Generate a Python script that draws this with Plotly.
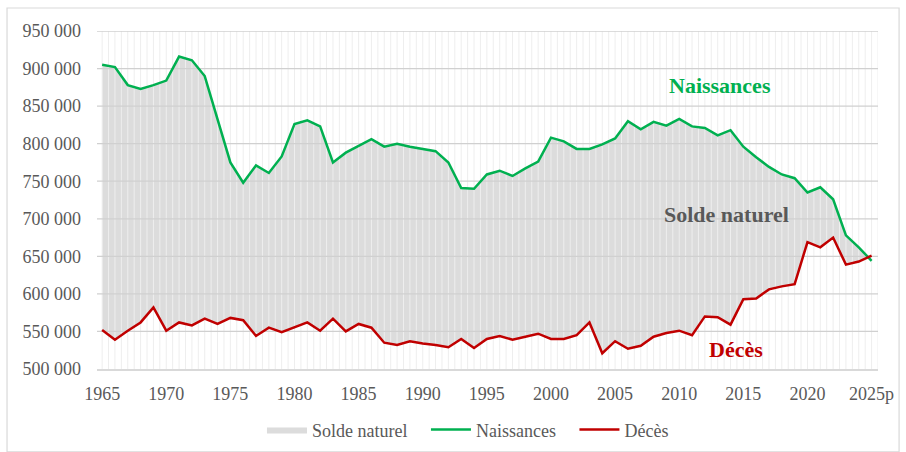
import plotly.graph_objects as go

years = list(range(1965, 2026))
naissances = [905000, 902000, 878000, 873000, 878000, 884000, 916000, 911000, 890000, 832000,
              775000, 748000, 771000, 761000, 783000, 826000, 831000, 823000, 775000, 788000,
              797000, 806000, 796000, 800000, 796000, 793000, 790000, 775000, 741000, 740000,
              759000, 764000, 757000, 767000, 776000, 808000, 803000, 793000, 793000, 799000,
              807000, 830000, 819000, 829000, 824000, 833000, 823000, 821000, 811000, 818000,
              796000, 782000, 769000, 759000, 754000, 735000, 742000, 726000, 678000, 662000,
              644000]
deces = [552000, 539000, 551000, 562000, 582000, 551000, 562000, 558000, 567000, 560000,
         568000, 565000, 544000, 555000, 549000, 556000, 562000, 551000, 567000, 550000,
         560000, 555000, 535000, 532000, 537000, 534000, 532000, 529000, 540000, 528000,
         540000, 544000, 539000, 543000, 547000, 540000, 540000, 545000, 562000, 521000,
         537000, 527000, 531000, 543000, 548000, 551000, 545000, 570000, 569000, 559000,
         593000, 594000, 606000, 610000, 613000, 669000, 662000, 675000, 639000, 643000,
         651000]
tick_years = [1965, 1970, 1975, 1980, 1985, 1990, 1995, 2000, 2005, 2010, 2015, 2020, 2025]
tick_text = ["1965", "1970", "1975", "1980", "1985", "1990", "1995", "2000", "2005", "2010",
             "2015", "2020", "2025p"]
y_ticks = list(range(500000, 950001, 50000))

serif = "Liberation Serif"
green = "#00b050"
red = "#c00000"
grey_txt = "#595959"
pad = "\u00a0\u00a0\u00a0"

Y0, Y1 = 500000, 950000
X0, X1 = 1964.6, 2025.5

fig = go.Figure()

fig.add_trace(go.Scatter(x=years, y=deces, mode="lines", line=dict(width=0, color="rgba(0,0,0,0)"),
                         showlegend=False, hoverinfo="skip"))
fig.add_trace(go.Scatter(x=years, y=naissances, mode="lines", fill="tonexty",
                         fillcolor="#dcdcdc", line=dict(width=0, color="#dcdcdc"),
                         name="Solde naturel" + pad))

vx, vy = [], []
k = 0
while 1965 + k * 0.5 <= 2025.5:
    xv = 1965 + k * 0.5
    vx += [xv, xv, None]
    vy += [Y0, Y1, None]
    k += 1
fig.add_trace(go.Scatter(x=vx, y=vy, mode="lines", line=dict(width=1, color="#eeeeee"),
                         showlegend=False, hoverinfo="skip"))
hx, hy = [], []
for t in y_ticks[1:]:
    hx += [X0, X1, None]
    hy += [t, t, None]
fig.add_trace(go.Scatter(x=hx, y=hy, mode="lines", line=dict(width=1.3, color="#d0d0d0"),
                         showlegend=False, hoverinfo="skip"))

fig.add_trace(go.Scatter(x=years, y=naissances, mode="lines", name="Naissances" + pad,
                         line=dict(color=green, width=2.5)))
fig.add_trace(go.Scatter(x=years, y=deces, mode="lines", name="Décès",
                         line=dict(color=red, width=2.5)))

fig.add_annotation(x=2013.2, y=877000, text="<b>Naissances</b>", showarrow=False,
                   font=dict(family=serif, size=22, color=green))
fig.add_annotation(x=2013.7, y=706000, text="<b>Solde naturel</b>", showarrow=False,
                   font=dict(family=serif, size=22, color=grey_txt))
fig.add_annotation(x=2014.4, y=526000, text="<b>Décès</b>", showarrow=False,
                   font=dict(family=serif, size=22, color=red))

fig.add_shape(type="rect", xref="paper", yref="paper", x0=-0.1152, x1=1.027, y0=-0.245, y1=1.068,
              line=dict(color="#d9d9d9", width=1.2), fillcolor="rgba(0,0,0,0)", layer="below")

fig.update_layout(
    template="none",
    width=906, height=452,
    margin=dict(l=97, r=28, t=31, b=83, autoexpand=False),
    paper_bgcolor="white", plot_bgcolor="white",
    separators=", ",
    font=dict(family=serif, size=18, color=grey_txt),
    showlegend=True,
    legend=dict(orientation="h", x=0.475, xanchor="center", y=-0.18, yanchor="middle",
                font=dict(family=serif, size=18, color=grey_txt), itemwidth=40,
                traceorder="normal", bgcolor="rgba(0,0,0,0)"),
    xaxis=dict(range=[X0, X1], tickmode="array", tickvals=tick_years, ticktext=tick_text,
               showgrid=False, zeroline=False, showline=True, linecolor="#d9d9d9", linewidth=2,
               ticks="", automargin=False, ticklabelstandoff=7,
               tickfont=dict(family=serif, size=18, color=grey_txt)),
    yaxis=dict(range=[Y0, Y1], tickmode="array", tickvals=y_ticks, tickformat=",d",
               showgrid=False, zeroline=False, showline=False, ticks="", automargin=False,
               ticklabelstandoff=15,
               tickfont=dict(family=serif, size=18, color=grey_txt)),
)

fig.write_html("out.html", post_script="document.body.style.margin='0';",
               config={"displayModeBar": False})
